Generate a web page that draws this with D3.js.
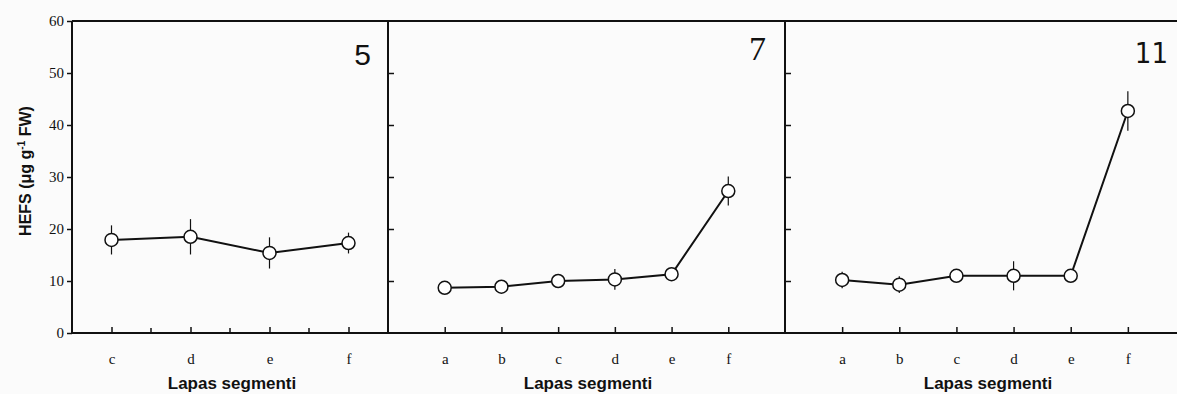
<!DOCTYPE html>
<html>
<head>
<meta charset="utf-8">
<script src="https://cdn.jsdelivr.net/npm/d3@7"></script>
<style>
  body { margin: 0; background: #fbfbfb; }
  svg { display: block; }
  .tick text { font-family: "Liberation Serif", "DejaVu Serif", serif; font-size: 15px; fill: #111; }
  .frame { fill: none; stroke: #111; stroke-width: 2; }
  .axis-title { font-family: "Liberation Sans", Arial, sans-serif; font-size: 17px; font-weight: bold; fill: #111; }
</style>
</head>
<body>
<div id="chart"></div>
<script>
// Data
const yTicks = [0, 10, 20, 30, 40, 50, 60];

const segments5 = ['c', 'd', 'e', 'f'];
const values5 = [17.9, 18.5, 15.4, 17.3];
const errors5 = [2.8, 3.4, 3.0, 2.0];

const segments7 = ['a', 'b', 'c', 'd', 'e', 'f'];
const values7 = [8.7, 8.9, 10.0, 10.3, 11.3, 27.3];
const errors7 = [0.6, 0.6, 0.8, 2.0, 1.0, 2.8];

const segments11 = ['a', 'b', 'c', 'd', 'e', 'f'];
const values11 = [10.2, 9.3, 11.0, 11.0, 11.0, 42.7];
const errors11 = [1.6, 1.6, 0.8, 2.8, 0.6, 3.8];

const panelLabels = ['5', '7', '11'];
const xTitle = 'Lapas segmenti';

const width = 1177, height = 394;
const plotTop = 21, plotBottom = 333;

const svg = d3.select('#chart').append('svg')
  .attr('width', width)
  .attr('height', height);

const y = d3.scaleLinear().domain([0, 60]).range([plotBottom, plotTop]);

// panel layout: left / right edge, point padding, number style
const panels = [
  { segs: segments5, vals: values5, errs: errors5, x0: 72, x1: 388, pad: 0.5, label: panelLabels[0], minor: true,
    labelFont: '"Liberation Sans", Arial, sans-serif', labelSize: 30, labelX: 371, labelY: 65, titleX: 232 },
  { segs: segments7, vals: values7, errs: errors7, x0: 388, x1: 785, pad: 1, label: panelLabels[1], minor: false,
    labelFont: '"Liberation Serif", serif', labelSize: 34, labelX: 766, labelY: 60, titleX: 588 },
  { segs: segments11, vals: values11, errs: errors11, x0: 785, x1: 1185, pad: 1, label: panelLabels[2], minor: false,
    labelFont: '"Liberation Sans Narrow", "DejaVu Sans Condensed", sans-serif', labelSize: 29, labelX: 1168, labelY: 63, titleX: 988 }
];

// Y axis with labels (first panel only)
const yAxis = svg.append('g')
  .attr('transform', `translate(72,0)`)
  .call(d3.axisLeft(y).tickValues(yTicks).tickSize(5).tickPadding(3));
yAxis.select('.domain').remove();
yAxis.selectAll('.tick line').attr('stroke', '#111').attr('stroke-width', 1.5);

const yTitle = svg.append('text')
  .attr('class', 'axis-title')
  .attr('transform', `translate(31,171) rotate(-90)`)
  .attr('text-anchor', 'middle')
  .style('font-size', '16px');
yTitle.append('tspan').text('HEFS (μg g');
yTitle.append('tspan').attr('dy', -6).style('font-size', '10px').text('-1');
yTitle.append('tspan').attr('dy', 6).text(' FW)');

panels.forEach((p, k) => {
  const x = d3.scalePoint().domain(p.segs).range([p.x0, p.x1]).padding(p.pad);
  const g = svg.append('g');

  // inner ticks on the left side for panels 2, 3
  if (k > 0) {
    const ya = g.append('g')
      .attr('transform', `translate(${p.x0},0)`)
      .call(d3.axisRight(y).tickValues(yTicks.slice(1, -1)).tickSize(6).tickFormat(''));
    ya.select('.domain').remove();
    ya.selectAll('.tick line').attr('stroke', '#111').attr('stroke-width', 1.5);
  }

  // x axis: ticks pointing up, labels below
  const xa = g.append('g')
    .attr('transform', `translate(0,${plotBottom})`)
    .call(d3.axisBottom(x).tickSize(-6).tickPadding(20));
  xa.select('.domain').remove();
  xa.selectAll('.tick line').attr('stroke', '#111').attr('stroke-width', 1.5);

  if (p.minor) {
    const mids = d3.pairs(p.segs).map(([a, b]) => (x(a) + x(b)) / 2);
    g.selectAll('.minor').data(mids).join('line')
      .attr('class', 'minor')
      .attr('x1', d => d).attr('x2', d => d)
      .attr('y1', plotBottom).attr('y2', plotBottom - 5)
      .attr('stroke', '#111').attr('stroke-width', 1.5);
  }

  // frame lines
  g.append('line').attr('class', 'frame')
    .attr('x1', p.x0).attr('x2', p.x1).attr('y1', plotTop).attr('y2', plotTop);
  g.append('line').attr('class', 'frame')
    .attr('x1', p.x0).attr('x2', p.x1).attr('y1', plotBottom).attr('y2', plotBottom);
  g.append('line').attr('class', 'frame')
    .attr('x1', p.x0).attr('x2', p.x0).attr('y1', plotTop).attr('y2', plotBottom);

  const pts = p.segs.map((s, i) => ({ s, v: p.vals[i], e: p.errs[i] }));

  // error bars
  g.selectAll('.err').data(pts).join('line')
    .attr('class', 'err')
    .attr('x1', d => x(d.s)).attr('x2', d => x(d.s))
    .attr('y1', d => y(d.v + d.e)).attr('y2', d => y(d.v - d.e))
    .attr('stroke', '#111').attr('stroke-width', 1.2);

  // line
  g.append('path')
    .datum(pts)
    .attr('fill', 'none')
    .attr('stroke', '#111')
    .attr('stroke-width', 2)
    .attr('d', d3.line().x(d => x(d.s)).y(d => y(d.v)));

  // markers
  g.selectAll('.pt').data(pts).join('circle')
    .attr('class', 'pt')
    .attr('cx', d => x(d.s)).attr('cy', d => y(d.v))
    .attr('r', 6.5)
    .attr('fill', '#fff')
    .attr('stroke', '#111')
    .attr('stroke-width', 1.5);

  // panel number
  g.append('text')
    .attr('x', p.labelX).attr('y', p.labelY)
    .attr('text-anchor', 'end')
    .style('font-family', p.labelFont)
    .style('font-size', p.labelSize + 'px')
    .style('fill', '#111')
    .text(p.label);

  // x title
  g.append('text')
    .attr('class', 'axis-title')
    .attr('x', p.titleX)
    .attr('y', 389)
    .attr('text-anchor', 'middle')
    .text(xTitle);
});

// right edge of the whole figure
svg.append('line').attr('class', 'frame')
  .attr('x1', 1185).attr('x2', 1185).attr('y1', plotTop).attr('y2', plotBottom);
</script>
</body>
</html>
